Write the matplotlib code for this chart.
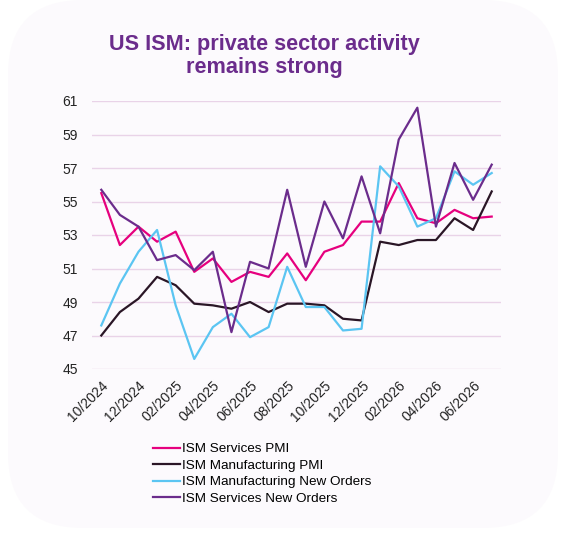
import matplotlib.pyplot as plt
from matplotlib.patches import FancyBboxPatch

months = ["10/2024", "11/2024", "12/2024", "01/2025", "02/2025", "03/2025",
          "04/2025", "05/2025", "06/2025", "07/2025", "08/2025", "09/2025",
          "10/2025", "11/2025", "12/2025", "01/2026", "02/2026", "03/2026",
          "04/2026", "05/2026", "06/2026", "07/2026"]

services_pmi = [55.5, 52.4, 53.5, 52.6, 53.2, 50.8, 51.6, 50.2, 50.8, 50.5, 51.9,
                50.3, 52.0, 52.4, 53.8, 53.8, 56.1, 54.0, 53.7, 54.5, 54.0, 54.1]
manufacturing_pmi = [47.0, 48.4, 49.2, 50.5, 50.0, 48.9, 48.8, 48.6, 49.0, 48.4, 48.9,
                     48.9, 48.8, 48.0, 47.9, 52.6, 52.4, 52.7, 52.7, 54.0, 53.3, 55.6]
manufacturing_new_orders = [47.6, 50.1, 52.0, 53.3, 48.8, 45.6, 47.5, 48.3, 46.9, 47.5, 51.1,
                            48.7, 48.7, 47.3, 47.4, 57.1, 55.9, 53.5, 54.0, 56.8, 56.0, 56.7]
services_new_orders = [55.7, 54.2, 53.5, 51.5, 51.8, 50.9, 52.0, 47.2, 51.4, 51.0, 55.7,
                       51.1, 55.0, 52.8, 56.5, 53.1, 58.7, 60.6, 53.5, 57.3, 55.1, 57.2]

plt.rcParams['font.family'] = ['Liberation Sans', 'DejaVu Sans']

fig = plt.figure(figsize=(5.68, 5.36), dpi=100)
fig.patch.set_facecolor("white")

# rounded light background panel (inches)
bg = FancyBboxPatch((0.08, 0.08), 5.50, 5.28,
                    boxstyle="round,pad=0,rounding_size=0.75",
                    transform=fig.dpi_scale_trans, facecolor="#FCFAFD",
                    edgecolor="none", zorder=-10)
fig.patches.append(bg)

ax = fig.add_axes([92 / 568, 1 - 369 / 536, 409 / 568, 268 / 536])
ax.set_facecolor("none")

x = list(range(len(months)))
ax.plot(x, services_pmi, color="#E6007E", lw=1.6, label="ISM Services PMI")
ax.plot(x, manufacturing_pmi, color="#2A1626", lw=1.6, label="ISM Manufacturing PMI")
ax.plot(x, manufacturing_new_orders, color="#5BC5F2", lw=1.6, label="ISM Manufacturing New Orders")
ax.plot(x, services_new_orders, color="#6B2C8C", lw=1.6, label="ISM Services New Orders")

ax.set_xlim(-0.5, len(months) - 0.5)
ax.set_ylim(45, 61)
ax.set_yticks(range(45, 62, 2))
ax.set_xticks(x[::2])
ax.set_xticklabels(months[::2], rotation=45, ha="right", va="top",
                   rotation_mode="anchor")
ax.tick_params(axis="both", length=0, labelsize=10, colors="#222222")
ax.tick_params(axis="y", pad=10)
ax.tick_params(axis="x", pad=7)
ax.grid(axis="y", color="#E9D3E8", lw=1)
ax.set_axisbelow(True)
for s in ax.spines.values():
    s.set_visible(False)

fig.text(264 / 568, 1 - 56 / 536, "US ISM: private sector activity\nremains strong",
         ha="center", va="center", fontsize=15.6, fontweight="bold",
         color="#6B2C8C", linespacing=1.1)

fig.legend(loc="upper left", bbox_to_anchor=(153 / 568, 1 - 443 / 536),
           frameon=False, fontsize=9.7, handlelength=2.0, handletextpad=0.15,
           labelspacing=0.3, borderpad=0, borderaxespad=0)

fig.savefig("out.png", dpi=100, facecolor=fig.get_facecolor())
